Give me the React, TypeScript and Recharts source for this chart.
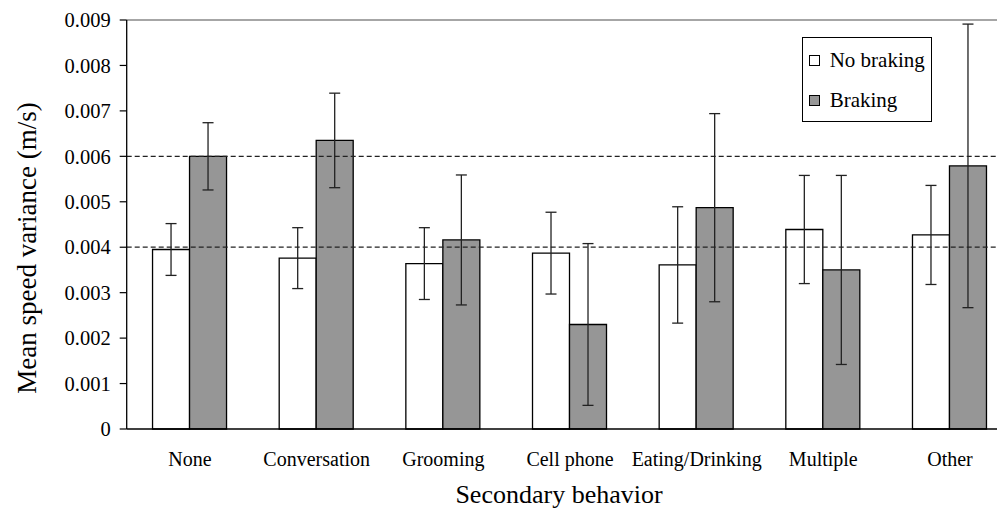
import React from 'react';
import { BarChart, Bar, XAxis, YAxis, ErrorBar, ReferenceLine, Legend } from 'recharts';

const categories = ['None', 'Conversation', 'Grooming', 'Cell phone', 'Eating/Drinking', 'Multiple', 'Other'];
const noBraking = [0.00395, 0.00376, 0.00364, 0.00387, 0.00361, 0.00439, 0.00427];
const noBrakingErr = [0.00057, 0.00067, 0.00079, 0.0009, 0.00128, 0.00119, 0.00109];
const braking = [0.006, 0.00635, 0.00416, 0.0023, 0.00487, 0.0035, 0.00579];
const brakingErr = [0.00074, 0.00104, 0.00143, 0.00178, 0.00207, 0.00208, 0.00312];
const yTicks = [0, 0.001, 0.002, 0.003, 0.004, 0.005, 0.006, 0.007, 0.008, 0.009];
const guideLines = [0.004, 0.006];
const seriesNames = ['No braking', 'Braking'];
const seriesFills = ['#ffffff', '#969696'];
const yTitle = 'Mean speed variance (m/s)';
const xTitle = 'Secondary behavior';

const data = categories.map((name, i) => ({
  name,
  noBraking: noBraking[i],
  noBrakingErr: noBrakingErr[i],
  braking: braking[i],
  brakingErr: brakingErr[i],
}));
const edgeTicks = Array.from({ length: categories.length + 1 }, (_, i) => i);

const FONT = "'Liberation Serif', 'DejaVu Serif', serif";

const YTitle = (props: any) => {
  const vb = props.viewBox;
  const x = vb.x - 39.5;
  const y = vb.y + vb.height / 2 + 23.5;
  return (
    <text x={x} y={y} transform={`rotate(-90 ${x} ${y})`} textAnchor="middle" dominantBaseline="central" fill="#000" style={{ fontFamily: FONT, fontSize: 27 }}>
      {yTitle}
    </text>
  );
};

const XTitle = (props: any) => {
  const vb = props.viewBox;
  const x = vb.x + vb.width / 2 - 11;
  const y = vb.y + 74;
  return (
    <text x={x} y={y} textAnchor="middle" fill="#000" style={{ fontFamily: FONT, fontSize: 26 }}>
      {xTitle}
    </text>
  );
};

const LegendBox = () => (
  <div
    style={{
      border: '1px solid #000',
      background: '#fff',
      width: 128,
      height: 81,
      boxSizing: 'content-box',
      paddingTop: 2,
      fontFamily: FONT,
      fontSize: 21,
      color: '#000',
    }}
  >
    {seriesNames.map((n, i) => (
      <div key={n} style={{ height: 40, display: 'flex', alignItems: 'center', paddingLeft: 6 }}>
        <span style={{ display: 'inline-block', width: 9, height: 9, border: '1px solid #000', background: seriesFills[i], marginRight: 10 }} />
        <span>{n}</span>
      </div>
    ))}
  </div>
);

export default function App() {
  return (
    <div style={{ width: 997, overflow: 'hidden', fontFamily: FONT }}>
      <BarChart
        width={1010}
        height={506}
        data={data}
        margin={{ top: 12, right: 4.7, bottom: 25, left: 58.7 }}
        barCategoryGap="20.4%"
        barGap={0}
        style={{ fontFamily: FONT }}
      >
        <XAxis
          xAxisId="edge"
          type="number"
          domain={[0, categories.length]}
          ticks={edgeTicks}
          tick={false}
          axisLine={false}
          tickLine={{ stroke: '#000', strokeWidth: 1.2 }}
          tickSize={7}
          height={0}
          allowDataOverflow
        />
        <XAxis
          xAxisId="cat"
          dataKey="name"
          interval={0}
          tickLine={false}
          tickSize={0}
          tickMargin={23}
          height={60}
          axisLine={{ stroke: '#000', strokeWidth: 1.3 }}
          tick={{ fill: '#000', fontSize: 20, style: { fontFamily: FONT } }}
          label={<XTitle />}
        />
        <YAxis
          width={60}
          domain={[0, 0.009]}
          ticks={yTicks}
          interval={0}
          tickFormatter={(v: number) => (v === 0 ? '0' : v.toFixed(3))}
          axisLine={{ stroke: '#000', strokeWidth: 1.3 }}
          tickLine={{ stroke: '#000', strokeWidth: 1.2 }}
          tickSize={7}
          tickMargin={9}
          tick={{ fill: '#000', fontSize: 20.5, style: { fontFamily: FONT } }}
          label={<YTitle />}
        />
        <ReferenceLine xAxisId="cat" y={yTicks[yTicks.length - 1]} stroke="#888" strokeWidth={1.5} />
        {guideLines.map((g) => (
          <ReferenceLine key={g} xAxisId="cat" y={g} stroke="#222" strokeWidth={1.2} strokeDasharray="5 3" />
        ))}
        <Legend
          layout="vertical"
          align="center"
          verticalAlign="middle"
          content={<LegendBox />}
          wrapperStyle={{ left: 793.7, top: 29.3, width: 'auto' }}
        />
        <Bar xAxisId="cat" dataKey="noBraking" name={seriesNames[0]} fill={seriesFills[0]} stroke="#000" strokeWidth={1.3} isAnimationActive={false}>
          <ErrorBar dataKey="noBrakingErr" width={5.5} stroke="#222" strokeWidth={1.3} isAnimationActive={false} />
        </Bar>
        <Bar xAxisId="cat" dataKey="braking" name={seriesNames[1]} fill={seriesFills[1]} stroke="#000" strokeWidth={1.3} isAnimationActive={false}>
          <ErrorBar dataKey="brakingErr" width={5.5} stroke="#222" strokeWidth={1.3} isAnimationActive={false} />
        </Bar>
      </BarChart>
    </div>
  );
}
